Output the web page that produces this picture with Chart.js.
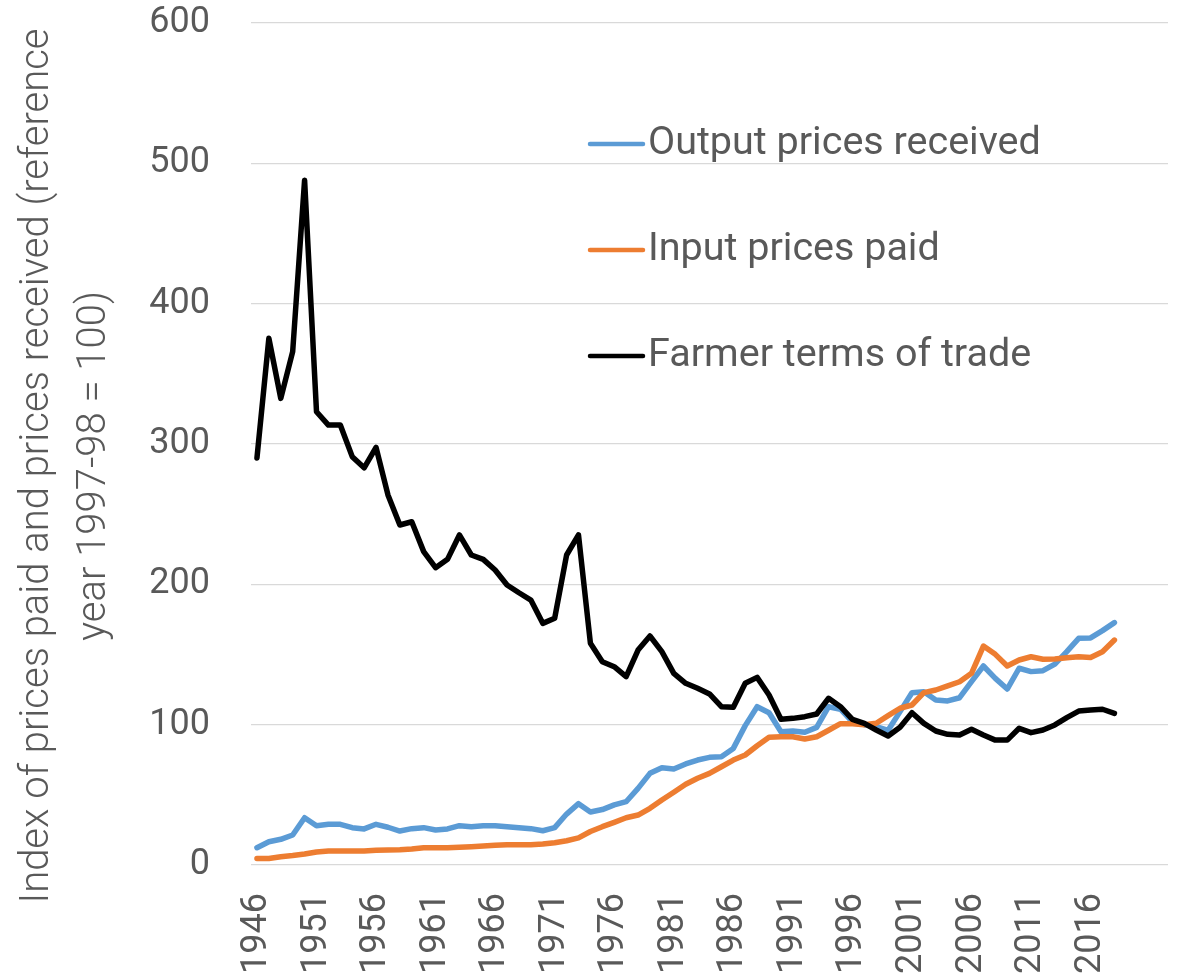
<!DOCTYPE html>
<html>
<head>
<meta charset="utf-8">
<title>Farmer terms of trade</title>
<script src="https://cdn.jsdelivr.net/npm/chart.js@4.4.1/dist/chart.umd.min.js"></script>
<style>
  html, body { margin: 0; padding: 0; background: #ffffff; }
  canvas { display: block; }
</style>
</head>
<body>
<canvas id="pricesChart" width="1182" height="977"></canvas>
<script>
// Years on the category axis
const years = [
    1946, 1947, 1948, 1949, 1950, 1951, 1952, 1953, 1954, 1955,
    1956, 1957, 1958, 1959, 1960, 1961, 1962, 1963, 1964, 1965,
    1966, 1967, 1968, 1969, 1970, 1971, 1972, 1973, 1974, 1975,
    1976, 1977, 1978, 1979, 1980, 1981, 1982, 1983, 1984, 1985,
    1986, 1987, 1988, 1989, 1990, 1991, 1992, 1993, 1994, 1995,
    1996, 1997, 1998, 1999, 2000, 2001, 2002, 2003, 2004, 2005,
    2006, 2007, 2008, 2009, 2010, 2011, 2012, 2013, 2014, 2015,
    2016, 2017, 2018
];

// Series values (index, 1997-98 = 100)
const outputPrices = [
    12.3, 16.6, 18.3, 21.4, 33.7, 28, 29, 29, 26.6, 25.7,
    29, 26.9, 24.2, 25.9, 26.6, 24.9, 25.7, 28, 27.3, 28,
    28, 27.3, 26.6, 25.9, 24.4, 26.6, 36.3, 43.7, 37.8, 39.5,
    42.8, 45.1, 54.6, 65.3, 69.3, 68.4, 72, 74.8, 76.7, 77.2,
    83.1, 99.3, 112.8, 108.5, 95, 95.5, 94.6, 98.1, 112.8, 111,
    102, 100, 98.6, 96, 109.3, 122.8, 123.5, 117.6, 116.9, 119.2,
    130.6, 141.8, 133, 125.4, 140.2, 137.8, 138.5, 143.2, 152, 161.5,
    161.8, 167, 172.7
];
const inputPrices = [
    4.7, 4.7, 5.9, 6.7, 7.8, 9.3, 10, 10, 10, 10,
    10.5, 10.7, 10.9, 11.4, 12.3, 12.3, 12.3, 12.6, 13, 13.5,
    14, 14.5, 14.5, 14.5, 15, 15.9, 17.3, 19.3, 23.9, 27.3,
    30.4, 33.7, 35.6, 40.4, 46.3, 51.8, 57.5, 61.8, 65.3, 70,
    74.8, 78.4, 85, 91, 91.4, 91.4, 89.8, 91.4, 96, 100.7,
    100.7, 100, 101, 106.4, 111.7, 114, 122.8, 124.7, 127.6, 130.6,
    136.6, 156, 150.1, 141.8, 146.1, 148.4, 146.6, 146.8, 147.7, 148.4,
    147.9, 152, 160.3
];
const termsOfTrade = [
    290, 375.3, 332.5, 365.8, 488, 323, 313.5, 313.5, 291, 283,
    297.6, 263.7, 242.3, 244.6, 223.3, 211.9, 217.8, 235.2, 220.9, 217.8,
    210.2, 199.5, 194, 188.8, 172.2, 175.8, 220.9, 235.2, 158, 144.9,
    141.3, 134.2, 153.2, 163.2, 152, 136.6, 129.5, 125.9, 121.9, 112.8,
    112.4, 129.5, 133.7, 121.1, 103.8, 104.5, 105.7, 107.6, 118.8, 112.8,
    103.8, 100.9, 96.2, 91.9, 98.1, 108.5, 100.9, 95.5, 93.1, 92.6,
    96.7, 92.6, 89, 89, 97.4, 94.3, 96.2, 99.8, 105, 109.7,
    110.5, 111, 108.1
];

// Tick labels
const xTickYears = [1946, 1951, 1956, 1961, 1966, 1971, 1976, 1981, 1986, 1991, 1996, 2001, 2006, 2011, 2016];
const yTicks = [0, 100, 200, 300, 400, 500, 600];

const seriesLabels = ['Output prices received', 'Input prices paid', 'Farmer terms of trade'];
const seriesColors = ['#5B9BD5', '#ED7D31', '#000000'];
const axisTitleLines = ['Index of prices paid and prices received (reference', 'year 1997-98 = 100)'];

const textColor = '#595959';

const toPoints = (values) => values.map((v, i) => ({ x: years[i], y: v }));

// Legend drawn inside the plot, like the original
const insideLegend = {
    id: 'insideLegend',
    afterDraw(chart) {
        const ctx = chart.ctx;
        ctx.save();
        chart.data.datasets.forEach((ds, i) => {
            const y = 144 + i * 106;
            ctx.strokeStyle = ds.borderColor;
            ctx.lineWidth = 4.5;
            ctx.lineCap = 'round';
            ctx.beginPath();
            ctx.moveTo(590, y);
            ctx.lineTo(643, y);
            ctx.stroke();
            ctx.fillStyle = textColor;
            ctx.font = '39.5px Roboto';
            ctx.textBaseline = 'middle';
            ctx.textAlign = 'left';
            ctx.fillText(ds.label, 648, y);
        });
        ctx.restore();
    }
};

// Two-line y axis title
const yAxisTitle = {
    id: 'yAxisTitle',
    afterDraw(chart) {
        const ctx = chart.ctx;
        ctx.save();
        ctx.translate(0, 466);
        ctx.rotate(-Math.PI / 2);
        ctx.fillStyle = textColor;
        ctx.font = '300 40px Roboto';
        ctx.textAlign = 'center';
        ctx.textBaseline = 'middle';
        ctx.fillText(axisTitleLines[0], 0, 38);
        ctx.fillText(axisTitleLines[1], 0, 95);
        ctx.restore();
    }
};

const ctx = document.getElementById('pricesChart').getContext('2d');
const pricesChart = new Chart(ctx, {
    type: 'line',
    data: {
        datasets: [
            { label: seriesLabels[0], data: toPoints(outputPrices), borderColor: seriesColors[0], order: 3 },
            { label: seriesLabels[1], data: toPoints(inputPrices), borderColor: seriesColors[1], order: 2 },
            { label: seriesLabels[2], data: toPoints(termsOfTrade), borderColor: seriesColors[2], order: 1 }
        ]
    },
    options: {
        responsive: false,
        animation: false,
        layout: { padding: { top: 23, right: 14, bottom: 0, left: 0 } },
        elements: {
            line: { borderWidth: 5.5, tension: 0, borderJoinStyle: 'round', borderCapStyle: 'round', fill: false },
            point: { radius: 0, hoverRadius: 0 }
        },
        plugins: {
            legend: { display: false },
            tooltip: { enabled: false }
        },
        scales: {
            x: {
                type: 'linear',
                min: 1945.5,
                max: 2022.5,
                afterBuildTicks: (scale) => { scale.ticks = xTickYears.map(v => ({ value: v })); },
                afterFit: (scale) => {
                    scale.height = 112;
                    scale.paddingLeft = 0;
                    scale.paddingRight = 0;
                },
                grid: { display: false, drawTicks: false },
                border: { display: false },
                ticks: {
                    autoSkip: false,
                    minRotation: 90,
                    maxRotation: 90,
                    padding: 28,
                    color: textColor,
                    font: { family: 'Roboto', size: 36 },
                    callback: (v) => String(v)
                }
            },
            y: {
                min: 0,
                max: 600,
                afterBuildTicks: (scale) => { scale.ticks = yTicks.map(v => ({ value: v })); },
                afterFit: (scale) => {
                    scale.width = 251;
                    scale.paddingTop = 0;
                    scale.paddingBottom = 0;
                },
                grid: { color: '#D9D9D9', lineWidth: 1.3, drawTicks: false },
                border: { display: false },
                ticks: {
                    padding: 41,
                    color: textColor,
                    font: { family: 'Roboto', size: 36 }
                }
            }
        }
    },
    plugins: [insideLegend, yAxisTitle]
});
</script>
</body>
</html>
